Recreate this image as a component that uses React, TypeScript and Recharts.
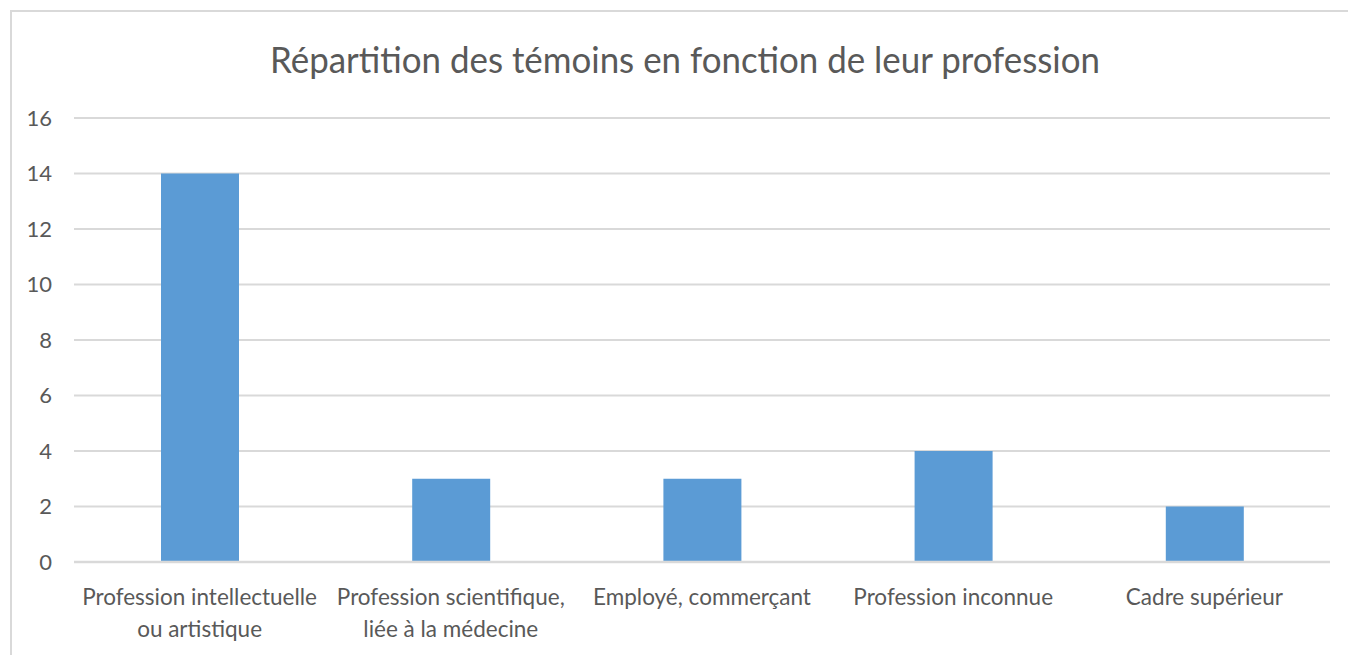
import React from 'react';
import { BarChart, Bar, XAxis, YAxis, CartesianGrid } from 'recharts';

const categories = [
    'Profession intellectuelle\nou artistique',
    'Profession scientifique,\nliée à la médecine',
    'Employé, commerçant',
    'Profession inconnue',
    'Cadre supérieur',
];
const counts = [14, 3, 3, 4, 2];
const yTicks = [0, 2, 4, 6, 8, 10, 12, 14, 16];
const title = 'Répartition des témoins en fonction de leur profession';

const data = categories.map((name, i) => ({ name, value: counts[i] }));

const FONT = 'Lato, "Open Sans", sans-serif';
const TEXT = '#595959';

const CategoryTick = (props: any) => {
    const { x, y, payload } = props;
    const lines = String(payload.value).split('\n');
    return (
        <text x={x} y={y} textAnchor="middle" fill={TEXT} fontSize={22.5} fontFamily={FONT}>
            {lines.map((line, i) => (
                <tspan key={i} x={x} dy={i === 0 ? 35 : 32}>
                    {line}
                </tspan>
            ))}
        </text>
    );
};

export default function App() {
    return (
        <div style={{ position: 'fixed', left: 0, top: 0, width: 1348, height: 655, background: '#fff', overflow: 'hidden' }}>
            <div
                style={{
                    position: 'absolute',
                    left: 10,
                    top: 10,
                    width: 1360,
                    height: 670,
                    border: '2px solid #d9d9d9',
                    boxSizing: 'border-box',
                }}
            />
            <BarChart
                width={1348}
                height={655}
                data={data}
                margin={{ top: 118, right: 18, bottom: 0, left: 0 }}
                style={{ position: 'absolute', left: 0, top: 0 }}
            >
                <text
                    x={685}
                    y={73}
                    textAnchor="middle"
                    fill={TEXT}
                    fontSize={37}
                    fontFamily={FONT}
                    textLength={830}
                    lengthAdjust="spacingAndGlyphs"
                >
                    {title}
                </text>
                <CartesianGrid vertical={false} stroke="#d9d9d9" strokeWidth={2} />
                <XAxis
                    dataKey="name"
                    height={93}
                    axisLine={{ stroke: '#d9d9d9', strokeWidth: 2.5 }}
                    tickLine={false}
                    interval={0}
                    tick={<CategoryTick />}
                />
                <YAxis
                    width={74}
                    domain={[0, 16]}
                    ticks={yTicks}
                    axisLine={false}
                    tickLine={false}
                    tickSize={0}
                    tickMargin={22}
                    tick={{ fill: TEXT, fontSize: 22, fontFamily: FONT }}
                />
                <Bar dataKey="value" fill="#5b9bd5" barSize={78} isAnimationActive={false} />
            </BarChart>
        </div>
    );
}
